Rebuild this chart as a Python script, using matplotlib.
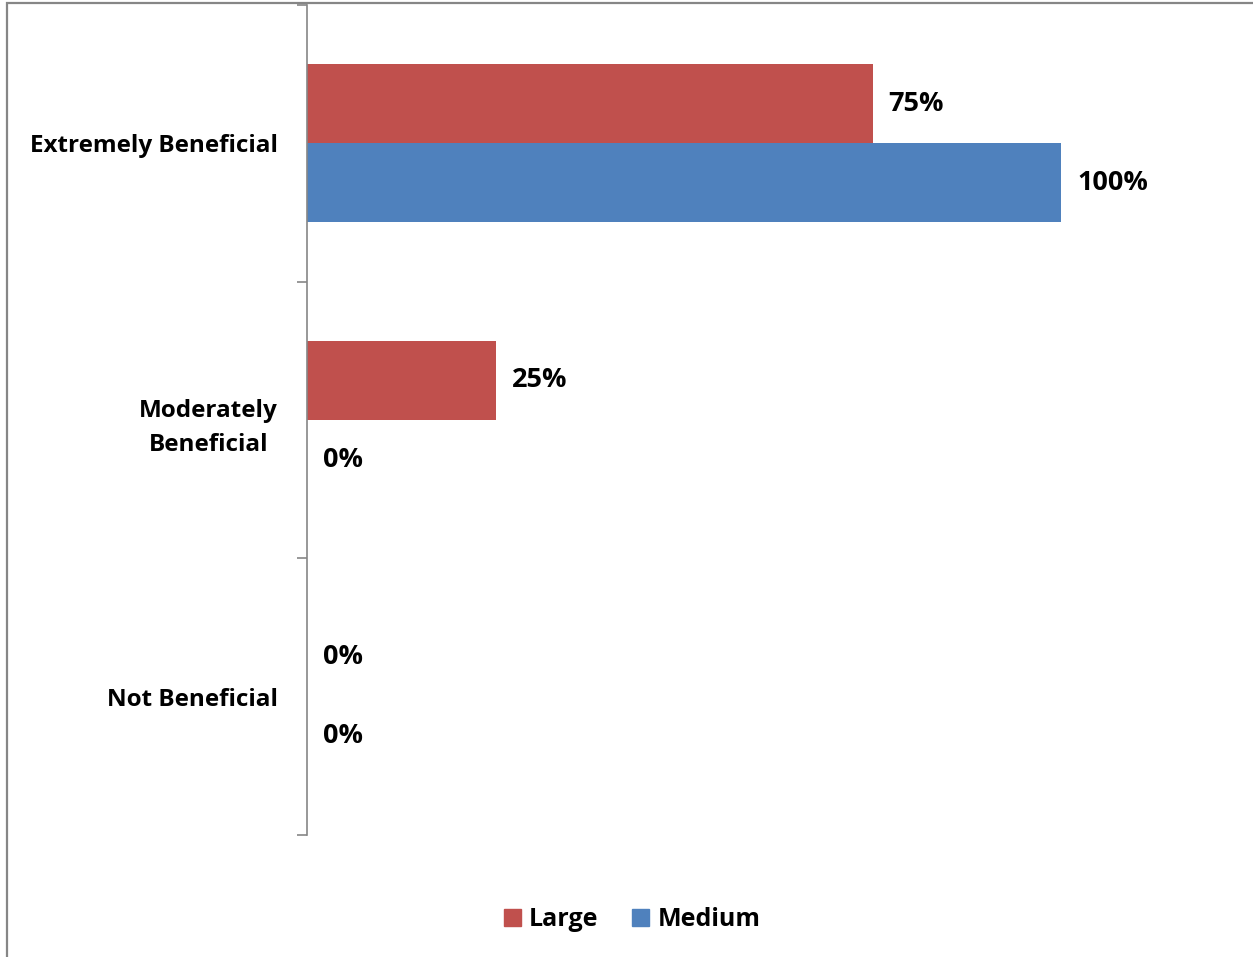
import matplotlib
matplotlib.use("Agg")
import matplotlib.pyplot as plt
import matplotlib.patches as mpatches
import numpy as np

# survey answers, top category first
categories = ["Extremely Beneficial", "Moderately\nBeneficial", "Not Beneficial"]
large = [75, 25, 0]
medium = [100, 0, 0]
series_names = ["Large", "Medium"]
series_colors = ["#C0504D", "#4F81BD"]

plt.rcParams['font.family'] = ['Open Sans', 'DejaVu Sans']
plt.rcParams['font.weight'] = 'bold'
CAT_FS = 17.5
VAL_FS = 19.5
LEG_FS = 18
GRAY = "#868686"

fig = plt.figure(figsize=(12.53, 9.57), dpi=100)
ax = fig.add_axes([307/1253, 1 - 835/957, (1212 - 307)/1253, (835 - 5)/957])

# outer chart frame (runs off the right and bottom edges)
fig.patches.append(mpatches.Rectangle((7/1253, -0.05), 1.1, 1 - 3/957 + 0.05,
                                      transform=fig.transFigure, fill=False,
                                      edgecolor=GRAY, linewidth=1.6))

n = len(categories)
ypos = np.arange(n)[::-1]  # first category at the top
h = 0.286

bars_l = ax.barh(ypos + h/2, large, height=h, color=series_colors[0], label=series_names[0])
bars_m = ax.barh(ypos - h/2, medium, height=h, color=series_colors[1], label=series_names[1])

for bars, vals in ((bars_l, large), (bars_m, medium)):
    for b, v in zip(bars, vals):
        ax.annotate(f"{v}%", xy=(v, b.get_y() + b.get_height()/2),
                    xytext=(11.5, 0), textcoords="offset points",
                    ha="left", va="center", fontsize=VAL_FS, fontweight="bold")

ax.set_xlim(0, 120)
ax.set_ylim(-0.5, n - 0.5)

for s in ("top", "right", "bottom"):
    ax.spines[s].set_visible(False)
ax.spines["left"].set_color(GRAY)
ax.spines["left"].set_linewidth(1.2)
ax.set_xticks([])

ax.set_yticks(ypos)
ax.set_yticklabels(categories, fontsize=CAT_FS, fontweight="bold",
                   multialignment="center", linespacing=1.58)
ax.tick_params(axis="y", which="major", length=0, pad=21)
ax.set_yticks(np.arange(-0.5, n, 1), minor=True)
ax.tick_params(axis="y", which="minor", length=7.5, width=1.2, color=GRAY, direction="out")

fig.legend(handles=[mpatches.Patch(color=c, label=l) for c, l in zip(series_colors, series_names)],
           loc="center", bbox_to_anchor=(632/1253, 1 - 920/957), ncol=2, frameon=False,
           handlelength=0.68, handleheight=0.68, handletextpad=0.32,
           columnspacing=1.36, prop={"weight": "bold", "size": LEG_FS})

fig.savefig("out.png", dpi=100, facecolor="white")
